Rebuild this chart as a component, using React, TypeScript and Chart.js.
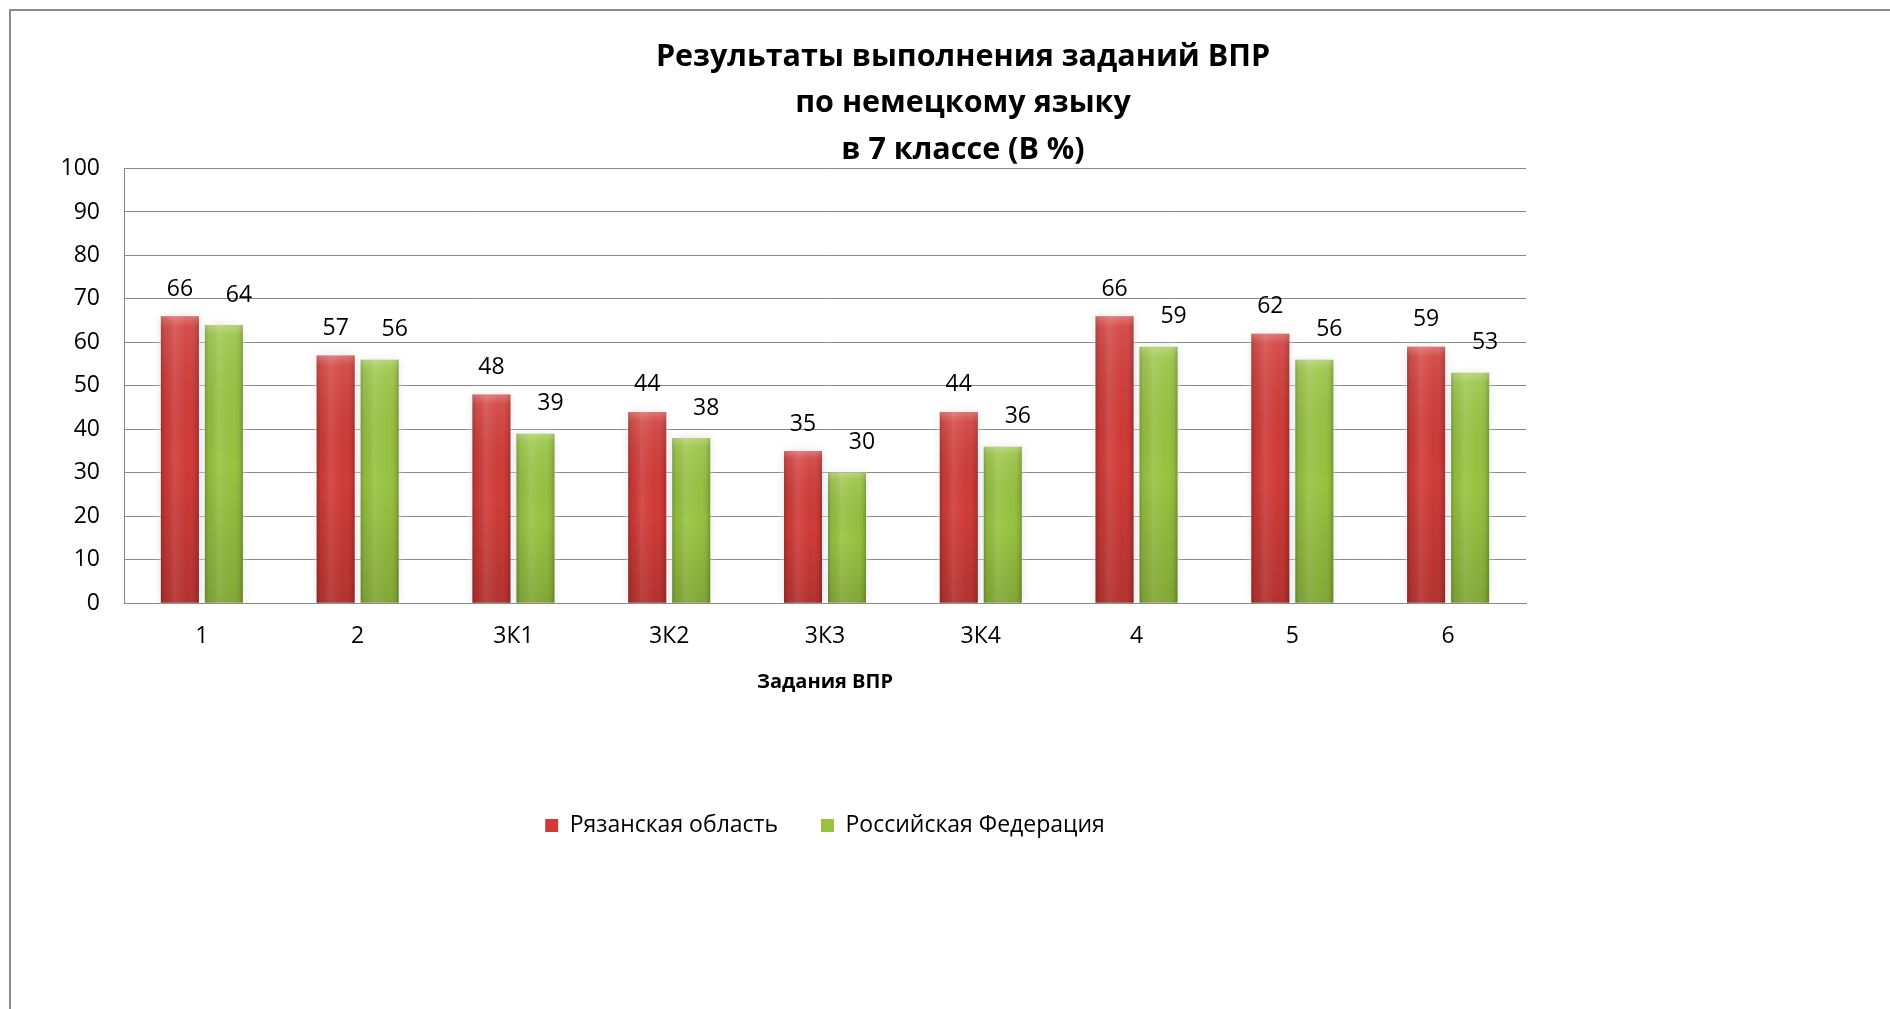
import React, { useEffect, useRef } from "react";
import { Chart, registerables } from "chart.js";

Chart.register(...registerables);

// ---- data ----
const categories = ["1", "2", "3К1", "3К2", "3К3", "3К4", "4", "5", "6"];
const ryazanValues = [66, 57, 48, 44, 35, 44, 66, 62, 59];
const russiaValues = [64, 56, 39, 38, 30, 36, 59, 56, 53];
const seriesNames = ["Рязанская область", "Российская Федерация"];
const titleLines = ["Результаты выполнения заданий ВПР", "по немецкому языку", "в 7 классе (В %)"];
const xAxisTitle = "Задания ВПР";
const yMin = 0;
const yMax = 100;
const yStep = 10;

const FONT = '"Open Sans", "Noto Sans", sans-serif';
const GRID = "#878787";

const barStylePlugin = {
  id: "barStyle",
  beforeDatasetsDraw(chart: any) {
    const ctx = chart.ctx;
    ctx.save();
    ctx.shadowColor = "rgba(225,225,225,0.95)";
    ctx.shadowBlur = 9;
  },
  afterDatasetsDraw(chart: any) {
    const ctx = chart.ctx;
    ctx.restore();
    chart.data.datasets.forEach((ds: any, di: number) => {
      const meta = chart.getDatasetMeta(di);
      meta.data.forEach((el: any, i: number) => {
        const { x, y, base, width } = el.getProps(["x", "y", "base", "width"], true);
        const left = x - width / 2;
        const h = base - y;
        ctx.save();
        const hg = ctx.createLinearGradient(left, 0, left + width, 0);
        hg.addColorStop(0, "rgba(0,0,0,0.22)");
        hg.addColorStop(0.1, "rgba(0,0,0,0.05)");
        hg.addColorStop(0.35, "rgba(255,255,255,0.10)");
        hg.addColorStop(0.7, "rgba(255,255,255,0.0)");
        hg.addColorStop(0.9, "rgba(0,0,0,0.06)");
        hg.addColorStop(1, "rgba(0,0,0,0.22)");
        ctx.fillStyle = hg;
        ctx.fillRect(left, y, width, h);
        const vg = ctx.createLinearGradient(0, y, 0, base);
        vg.addColorStop(0, "rgba(255,255,255,0.30)");
        vg.addColorStop(Math.min(0.05, 10 / Math.max(h, 1)), "rgba(255,255,255,0.10)");
        vg.addColorStop(0.5, "rgba(0,0,0,0)");
        vg.addColorStop(1, "rgba(0,0,0,0.14)");
        ctx.fillStyle = vg;
        ctx.fillRect(left, y, width, h);
        ctx.restore();

        // data label
        const val = ds.data[i];
        ctx.save();
        ctx.font = `23px ${FONT}`;
        ctx.fillStyle = "#000";
        ctx.textAlign = "center";
        ctx.textBaseline = "middle";
        const dx = di === 0 ? 0 : 15;
        const dy = di === 0 ? 27 : 30;
        ctx.fillText(String(val), x + dx, y - dy);
        ctx.restore();
      });
    });
  },
};

export default function App() {
  const ref = useRef<HTMLCanvasElement | null>(null);
  useEffect(() => {
    document.body.style.overflow = "hidden";
    document.documentElement.style.overflow = "hidden";
    const canvas = ref.current!;
    const chart = new Chart(canvas, {
      type: "bar",
      data: {
        labels: categories,
        datasets: [
          {
            label: seriesNames[0],
            data: ryazanValues,
            backgroundColor: "#D13A37",
            borderWidth: 0,
            categoryPercentage: 0.565,
            barPercentage: 0.864,
          },
          {
            label: seriesNames[1],
            data: russiaValues,
            backgroundColor: "#98C340",
            borderWidth: 0,
            categoryPercentage: 0.565,
            barPercentage: 0.864,
          },
        ],
      },
      options: {
        responsive: false,
        animation: false,
        events: [],
        layout: { padding: { left: 0, right: 0, top: 0, bottom: 162 } },
        plugins: {
          tooltip: { enabled: false },
          title: {
            display: true,
            text: titleLines,
            color: "#000",
            font: { family: FONT, size: 30.5, weight: "bold", lineHeight: "46.5px" as any },
            padding: { top: 23, bottom: -5 },
          },
          legend: {
            display: true,
            position: "bottom",
            fullSize: false,
            labels: {
              color: "#000",
              font: { family: FONT, size: 23 },
              boxWidth: 13,
              boxHeight: 13,
              padding: 43,
            },
          },
        },
        scales: {
          x: {
            grid: { display: false, drawTicks: false },
            border: { display: true, color: GRID, width: 1 },
            ticks: {
              color: "#000",
              font: { family: FONT, size: 23, lineHeight: 0.6 },
              padding: 26.5,
              maxRotation: 0,
            },
            title: {
              display: true,
              text: xAxisTitle,
              color: "#000",
              font: { family: FONT, size: 20, weight: "bold" },
              padding: { top: 0, bottom: 77 },
            },
          },
          y: {
            min: yMin,
            max: yMax,
            grid: { color: GRID, lineWidth: 1, drawTicks: false },
            border: { display: true, color: GRID, width: 1 },
            ticks: { stepSize: yStep, color: "#000", font: { family: FONT, size: 23 }, padding: 24 },
            afterFit: (s: any) => {
              s.width = 113;
            },
          },
          yRight: {
            type: "linear",
            position: "right",
            display: true,
            grid: { display: false, drawTicks: false },
            border: { display: false },
            ticks: { display: false },
            afterFit: (s: any) => {
              s.width = 389;
            },
          },
        },
      } as any,
      plugins: [barStylePlugin],
    });
    return () => chart.destroy();
  }, []);

  return (
    <div
      style={{
        position: "fixed",
        left: 9,
        top: 9,
        borderLeft: "2px solid #8c8c8c",
        borderTop: "2px solid #8c8c8c",
        background: "#fff",
      }}
    >
      <canvas ref={ref} width={1904} height={998} style={{ display: "block", width: 1904, height: 998 }} />
    </div>
  );
}
